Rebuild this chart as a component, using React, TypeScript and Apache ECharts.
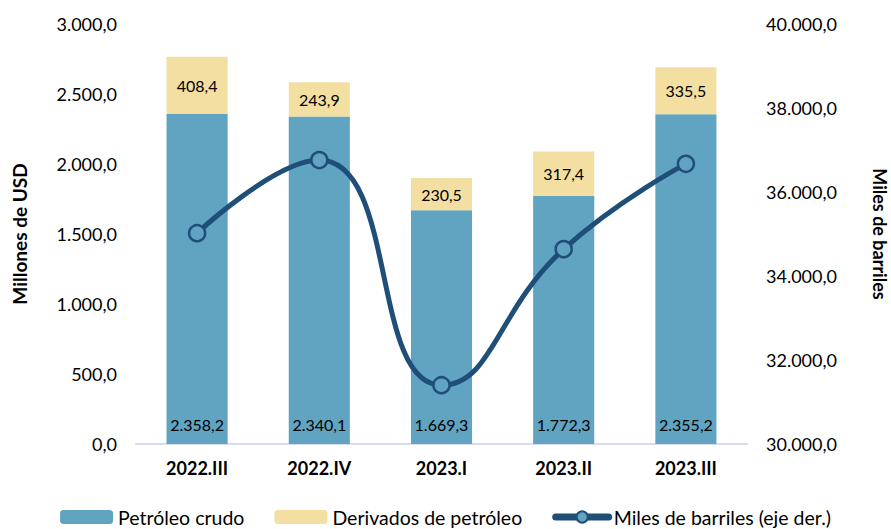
import React, { useEffect, useRef } from "react";
import * as echarts from "echarts";

const categories = ["2022.III", "2022.IV", "2023.I", "2023.II", "2023.III"];
const crudo = [2358.2, 2340.1, 1669.3, 1772.3, 2355.2];
const derivados = [408.4, 243.9, 230.5, 317.4, 335.5];
const barriles = [35020, 36760, 31400, 34640, 36670];

const fmt = (v: number) => {
  const s = Math.abs(v).toFixed(1);
  const [i, d] = s.split(".");
  const withSep = i.replace(/\B(?=(\d{3})+(?!\d))/g, ".");
  return (v < 0 ? "-" : "") + withSep + "," + d;
};

const FONT = "Lato";

export default function App() {
  const ref = useRef<HTMLDivElement>(null);
  useEffect(() => {
    if (!ref.current) return;
    const chart = echarts.init(ref.current, undefined, { renderer: "svg" });
    chart.setOption({
      animation: false,
      textStyle: { fontFamily: FONT, color: "#000" },
      grid: { left: 136, right: 144, top: 24, bottom: 85, outerBoundsMode: "none", containLabel: false },
      legend: {
        bottom: -3,
        left: "center",
        itemWidth: 53,
        itemHeight: 14,
        itemGap: 30,
        textStyle: { fontSize: 19.5, fontFamily: FONT, color: "#000" },
        data: [
          "Petróleo crudo",
          "Derivados de petróleo",
          { name: "Miles de barriles (eje der.)", lineStyle: { width: 7, cap: "round" } },
        ],
      },
      xAxis: {
        type: "category",
        data: categories,
        axisTick: { show: false },
        axisLine: { lineStyle: { color: "#D9DCF0", width: 2 } },
        axisLabel: { fontSize: 18, fontWeight: "bold", color: "#000", margin: 15 },
      },
      yAxis: [
        {
          type: "value",
          min: 0,
          max: 3000,
          interval: 500,
          name: "Millones de USD",
          nameLocation: "middle",
          nameGap: 107,
          nameRotate: 90,
          nameTextStyle: { fontSize: 19, fontWeight: "bold", color: "#000" },
          splitLine: { show: false },
          axisLabel: { fontSize: 18, color: "#000", margin: 19, formatter: (v: number) => fmt(v) },
        },
        {
          type: "value",
          min: 30000,
          max: 40000,
          interval: 2000,
          name: "Miles de barriles",
          nameLocation: "middle",
          nameGap: 124,
          nameRotate: -90,
          nameTextStyle: { fontSize: 18, fontWeight: "bold", color: "#000" },
          splitLine: { show: false },
          axisLabel: { fontSize: 18, color: "#000", margin: 19, formatter: (v: number) => fmt(v) },
        },
      ],
      series: [
        {
          name: "Petróleo crudo",
          type: "bar",
          stack: "total",
          barWidth: "50%",
          data: crudo,
          itemStyle: { color: "#60A4C1" },
          label: {
            show: true,
            position: "insideBottom",
            distance: 12,
            fontSize: 16,
            color: "#000",
            formatter: (p: any) => fmt(p.value),
          },
        },
        {
          name: "Derivados de petróleo",
          type: "bar",
          stack: "total",
          data: derivados,
          itemStyle: { color: "#F3DFA2" },
          label: {
            show: true,
            position: "inside",
            fontSize: 16,
            color: "#000",
            formatter: (p: any) => fmt(p.value),
          },
        },
        {
          name: "Miles de barriles (eje der.)",
          type: "line",
          yAxisIndex: 1,
          data: barriles,
          smooth: 0.5,
          symbol: "circle",
          symbolSize: 16,
          lineStyle: { color: "#1F4E79", width: 5 },
          itemStyle: { color: "#60A4C1", borderColor: "#1F4E79", borderWidth: 2.5 },
          z: 5,
        },
      ],
    });
    return () => chart.dispose();
  }, []);
  return <div ref={ref} style={{ width: 891, height: 529, position: "absolute", left: 0, top: 0 }} />;
}
